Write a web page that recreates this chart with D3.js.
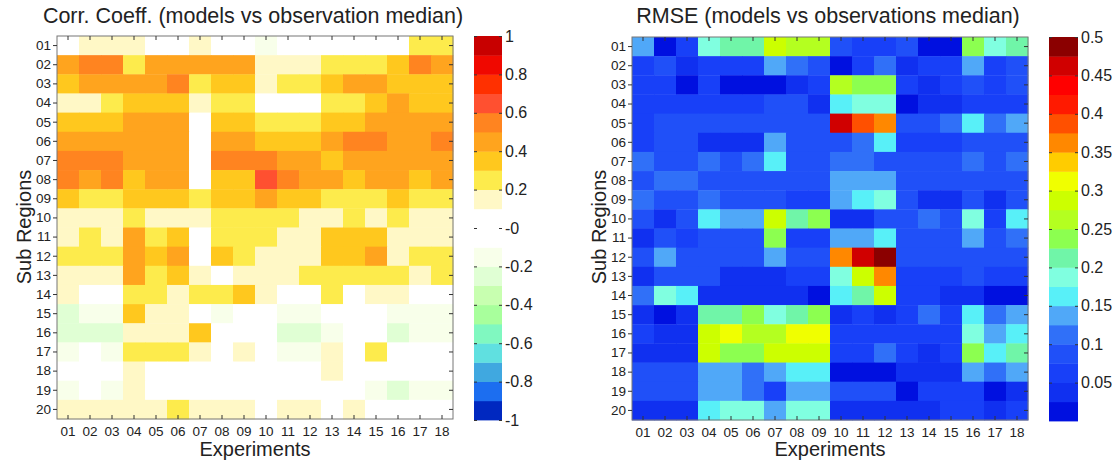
<!DOCTYPE html>
<html>
<head>
<meta charset="utf-8">
<script src="https://cdn.jsdelivr.net/npm/d3@7"></script>
<style>
body { margin: 0; background: #fff; }
svg text { font-family: "Liberation Sans", Arial, sans-serif; fill: #222; }
</style>
</head>
<body>
<div id="chart"></div>
<script>
// ===========================================
// Data (rows = sub regions, cols = experiments)
var experiments = ["01","02","03","04","05","06","07","08","09","10","11","12","13","14","15","16","17","18"];
var regions = ["01","02","03","04","05","06","07","08","09","10","11","12","13","14","15","16","17","18","19","20"];

var corrValues = [
  [0.05,0.15,0.15,0.15,0.05,0.05,0.15,0.05,0.05,-0.15,0.05,0.05,0.05,0.05,0.05,0.05,0.25,0.25],
  [0.45,0.55,0.55,0.25,0.45,0.45,0.45,0.45,0.45,0.15,0.15,0.15,0.25,0.25,0.25,0.35,0.55,0.45],
  [0.35,0.45,0.45,0.45,0.45,0.55,0.25,0.35,0.35,0.15,0.25,0.25,0.35,0.45,0.45,0.35,0.35,0.35],
  [0.15,0.15,0.25,0.35,0.35,0.35,0.15,0.25,0.25,0.05,0.05,0.05,0.25,0.25,0.35,0.45,0.35,0.35],
  [0.35,0.35,0.35,0.45,0.45,0.45,0.05,0.35,0.35,0.25,0.25,0.25,0.35,0.35,0.45,0.45,0.45,0.45],
  [0.45,0.45,0.45,0.45,0.45,0.45,0.05,0.45,0.45,0.35,0.35,0.35,0.45,0.55,0.55,0.45,0.45,0.55],
  [0.55,0.55,0.55,0.45,0.45,0.45,0.05,0.55,0.55,0.55,0.45,0.45,0.35,0.45,0.45,0.45,0.45,0.45],
  [0.55,0.45,0.55,0.35,0.45,0.45,0.05,0.35,0.35,0.65,0.55,0.45,0.45,0.35,0.45,0.45,0.35,0.45],
  [0.35,0.25,0.25,0.35,0.35,0.35,0.25,0.35,0.35,0.45,0.35,0.35,0.25,0.25,0.25,0.35,0.25,0.25],
  [0.15,0.15,0.15,0.25,0.15,0.15,0.15,0.25,0.25,0.25,0.25,0.15,0.15,0.25,0.15,0.25,0.15,0.15],
  [0.15,0.25,0.15,0.45,0.25,0.35,0.05,0.25,0.25,0.25,0.15,0.15,0.35,0.35,0.35,0.15,0.15,0.15],
  [0.25,0.25,0.25,0.45,0.35,0.45,0.05,0.35,0.25,0.15,0.15,0.15,0.35,0.35,0.45,0.15,0.25,0.25],
  [0.15,0.15,0.15,0.45,0.25,0.35,0.15,0.05,0.15,0.15,0.15,0.25,0.25,0.25,0.25,0.25,0.15,0.25],
  [0.15,0.05,0.05,0.25,0.25,0.15,0.25,0.25,0.35,0.15,0.05,0.05,0.25,0.05,0.15,0.15,0.05,0.05],
  [-0.25,-0.15,-0.15,0.35,0.15,0.15,0.05,-0.15,0.05,0.05,-0.15,-0.15,0.05,0.05,0.05,-0.15,-0.15,-0.15],
  [-0.25,-0.25,-0.25,0.15,0.15,0.15,0.35,0.05,0.05,0.05,-0.25,-0.25,-0.15,0.05,0.05,-0.25,-0.15,-0.15],
  [-0.15,0.05,-0.15,0.25,0.25,0.25,0.15,0.05,0.15,0.05,-0.15,-0.15,0.15,0.05,0.25,0.05,0.05,0.05],
  [0.05,0.05,0.05,0.15,0.05,0.05,0.05,0.05,0.05,0.05,0.05,0.05,0.15,0.05,0.05,0.05,0.05,0.05],
  [-0.15,0.05,-0.15,0.15,0.05,0.05,0.05,0.05,0.05,0.05,0.05,0.05,0.05,0.05,-0.15,-0.25,-0.15,-0.15],
  [0.15,0.15,0.15,0.15,0.15,0.25,0.15,0.15,0.15,0.05,0.15,0.15,0.05,0.15,0.05,0.05,0.05,0.05]
];

var rmseValues = [
  [0.14,0.01,0.06,0.19,0.21,0.21,0.29,0.26,0.26,0.09,0.06,0.06,0.09,0.01,0.01,0.24,0.19,0.21],
  [0.06,0.09,0.04,0.06,0.06,0.06,0.14,0.11,0.09,0.01,0.06,0.11,0.04,0.06,0.06,0.14,0.06,0.09],
  [0.06,0.06,0.01,0.06,0.01,0.01,0.01,0.04,0.06,0.26,0.24,0.24,0.06,0.04,0.06,0.09,0.06,0.09],
  [0.06,0.06,0.06,0.06,0.06,0.06,0.09,0.09,0.04,0.16,0.19,0.19,0.01,0.04,0.04,0.06,0.06,0.06],
  [0.06,0.09,0.09,0.09,0.09,0.09,0.09,0.09,0.09,0.46,0.39,0.36,0.09,0.09,0.11,0.16,0.11,0.14],
  [0.06,0.09,0.09,0.04,0.04,0.04,0.14,0.09,0.09,0.09,0.11,0.16,0.06,0.06,0.06,0.09,0.09,0.09],
  [0.11,0.09,0.09,0.11,0.09,0.11,0.16,0.09,0.09,0.11,0.11,0.09,0.09,0.09,0.09,0.11,0.09,0.11],
  [0.09,0.11,0.11,0.09,0.09,0.09,0.09,0.09,0.09,0.14,0.14,0.14,0.09,0.09,0.09,0.09,0.09,0.09],
  [0.11,0.09,0.09,0.11,0.09,0.09,0.09,0.06,0.06,0.14,0.16,0.19,0.09,0.04,0.04,0.09,0.04,0.09],
  [0.09,0.04,0.09,0.16,0.14,0.14,0.29,0.21,0.24,0.04,0.04,0.09,0.09,0.11,0.09,0.19,0.06,0.16],
  [0.04,0.09,0.06,0.09,0.09,0.09,0.24,0.06,0.06,0.14,0.14,0.16,0.09,0.09,0.09,0.14,0.09,0.11],
  [0.09,0.14,0.09,0.09,0.09,0.09,0.14,0.09,0.09,0.36,0.46,0.49,0.09,0.09,0.09,0.09,0.09,0.09],
  [0.04,0.09,0.09,0.09,0.04,0.04,0.04,0.06,0.06,0.19,0.29,0.36,0.06,0.06,0.06,0.09,0.06,0.06],
  [0.11,0.19,0.16,0.04,0.04,0.04,0.04,0.04,0.01,0.16,0.21,0.29,0.06,0.06,0.04,0.04,0.01,0.01],
  [0.04,0.01,0.04,0.21,0.21,0.24,0.19,0.21,0.24,0.04,0.06,0.04,0.06,0.11,0.06,0.16,0.11,0.14],
  [0.06,0.04,0.04,0.29,0.31,0.26,0.26,0.31,0.31,0.06,0.06,0.06,0.06,0.06,0.06,0.19,0.14,0.16],
  [0.04,0.04,0.04,0.29,0.24,0.24,0.29,0.29,0.29,0.06,0.06,0.11,0.06,0.04,0.06,0.24,0.16,0.21],
  [0.09,0.09,0.09,0.14,0.14,0.11,0.14,0.16,0.16,0.01,0.01,0.01,0.04,0.04,0.04,0.14,0.11,0.14],
  [0.09,0.09,0.09,0.14,0.14,0.11,0.06,0.14,0.14,0.09,0.09,0.09,0.01,0.06,0.06,0.06,0.01,0.04],
  [0.04,0.04,0.04,0.16,0.19,0.19,0.14,0.19,0.19,0.04,0.04,0.04,0.04,0.04,0.06,0.06,0.04,0.06]
];

// colour bar ticks
var corrTicks = [-1,-0.8,-0.6,-0.4,-0.2,0,0.2,0.4,0.6,0.8,1];
var corrTickLabels = ["-1","-0.8","-0.6","-0.4","-0.2","-0","0.2","0.4","0.6","0.8","1"];
var rmseTicks = [0.05,0.1,0.15,0.2,0.25,0.3,0.35,0.4,0.45,0.5];
var rmseTickLabels = ["0.05","0.1","0.15","0.2","0.25","0.3","0.35","0.4","0.45","0.5"];

// 20 discrete colours, low -> high
var corrColors = ["#0028c0","#1c6ef0","#40a8e0","#60e0e0","#80f8c0","#a8ff9c","#c8ffb0","#e0ffd4","#f8ffea","#ffffff",
                  "#ffffff","#fff8c6","#fdeb4c","#ffc81e","#ffa41e","#ff8420","#ff5030","#ff3000","#f00800","#c80000"];
var rmseColors = ["#0010e0","#1030f0","#1840f8","#2050f8","#3070f8","#50a8f8","#58f0f8","#80ffe0","#70f5a8","#8cff50",
                  "#b4ff20","#ccff00","#f0ff00","#ffcc00","#ff8800","#ff5000","#ff1a00","#ff0000","#d00000","#8b0000"];

// ===========================================
// SVG
var svgWidth = 1120;
var svgHeight = 464;
var plotW = 396;
var plotH = 383;

var svg = d3.select("#chart")
    .append("svg")
    .attr("width", svgWidth)
    .attr("height", svgHeight);

function drawPanel(cfg) {
    var g = svg.append("g");

    var x = d3.scaleBand().domain(experiments).range([cfg.left, cfg.left + plotW]);
    var y = d3.scaleBand().domain(regions).range([cfg.top, cfg.top + plotH]);
    var color = d3.scaleQuantize().domain(cfg.domain).range(cfg.colors);

    var cells = [];
    cfg.values.forEach(function(row, i) {
        row.forEach(function(v, j) {
            cells.push({r: regions[i], e: experiments[j], v: v});
        });
    });

    g.selectAll(null)
        .data(cells)
        .enter()
        .append("rect")
        .attr("x", d => x(d.e))
        .attr("y", d => y(d.r))
        .attr("width", x.bandwidth() + 0.4)
        .attr("height", y.bandwidth() + 0.4)
        .attr("fill", d => color(d.v));

    // frame
    g.append("rect")
        .attr("x", cfg.left)
        .attr("y", cfg.top)
        .attr("width", plotW)
        .attr("height", plotH)
        .attr("fill", "none")
        .attr("stroke", "#777")
        .attr("stroke-width", 1);

    // axes
    var left = g.append("g")
        .attr("transform", `translate(${cfg.left},0)`)
        .call(d3.axisLeft(y).tickSize(4).tickPadding(2));
    var bottom = g.append("g")
        .attr("transform", `translate(0,${cfg.top + plotH})`)
        .call(d3.axisBottom(x).tickSize(-4).tickPadding(7));
    g.append("g")
        .attr("transform", `translate(0,${cfg.top})`)
        .call(d3.axisTop(x).tickSize(-4).tickFormat(""));
    g.append("g")
        .attr("transform", `translate(${cfg.left + plotW},0)`)
        .call(d3.axisRight(y).tickSize(-4).tickFormat(""));

    g.selectAll(".domain").remove();
    g.selectAll(".tick line").attr("stroke", "#333");
    left.selectAll("text").attr("font-size", "13.5px");
    bottom.selectAll("text").attr("font-size", "13.5px");

    // labels
    g.append("text")
        .attr("x", cfg.left + plotW / 2 - 2)
        .attr("y", 23)
        .attr("text-anchor", "middle")
        .attr("font-size", "21.5px")
        .text(cfg.title);

    g.append("text")
        .attr("x", cfg.left + plotW / 2)
        .attr("y", 456)
        .attr("text-anchor", "middle")
        .attr("font-size", "20px")
        .text("Experiments");

    g.append("text")
        .attr("transform", `translate(${cfg.left - 26}, 227) rotate(-90)`)
        .attr("text-anchor", "middle")
        .attr("font-size", "20px")
        .text("Sub Regions");

    // colour bar
    var cb = svg.append("g");
    var cbScale = d3.scaleLinear().domain(cfg.domain).range([cfg.top + plotH + 1, cfg.top]);

    cb.selectAll(null)
        .data(cfg.colors)
        .enter()
        .append("rect")
        .attr("x", cfg.cbLeft)
        .attr("y", c => cbScale(color.invertExtent(c)[1]))
        .attr("width", cfg.cbW)
        .attr("height", c => cbScale(color.invertExtent(c)[0]) - cbScale(color.invertExtent(c)[1]) + 0.4)
        .attr("fill", c => c);

    var cbAxis = cb.append("g")
        .attr("transform", `translate(${cfg.cbLeft + cfg.cbW},0)`)
        .call(d3.axisRight(cbScale)
            .tickValues(cfg.ticks)
            .tickSize(-3)
            .tickPadding(3)
            .tickFormat((d, i) => cfg.tickLabels[i]));
    cb.append("g")
        .attr("transform", `translate(${cfg.cbLeft},0)`)
        .call(d3.axisLeft(cbScale).tickValues(cfg.ticks).tickSize(-3).tickFormat(""));

    cb.selectAll(".domain").remove();
    cb.selectAll(".tick line").attr("stroke", "#333");
    cbAxis.selectAll("text").attr("font-size", "16px");
}

drawPanel({
    left: 57, top: 36,
    values: corrValues,
    domain: [-1, 1],
    colors: corrColors,
    title: "Corr. Coeff. (models vs observation median)",
    cbLeft: 474, cbW: 28,
    ticks: corrTicks, tickLabels: corrTickLabels
});

drawPanel({
    left: 632, top: 37,
    values: rmseValues,
    domain: [0, 0.5],
    colors: rmseColors,
    title: "RMSE (models vs observations median)",
    cbLeft: 1049, cbW: 29,
    ticks: rmseTicks, tickLabels: rmseTickLabels
});
</script>
</body>
</html>
